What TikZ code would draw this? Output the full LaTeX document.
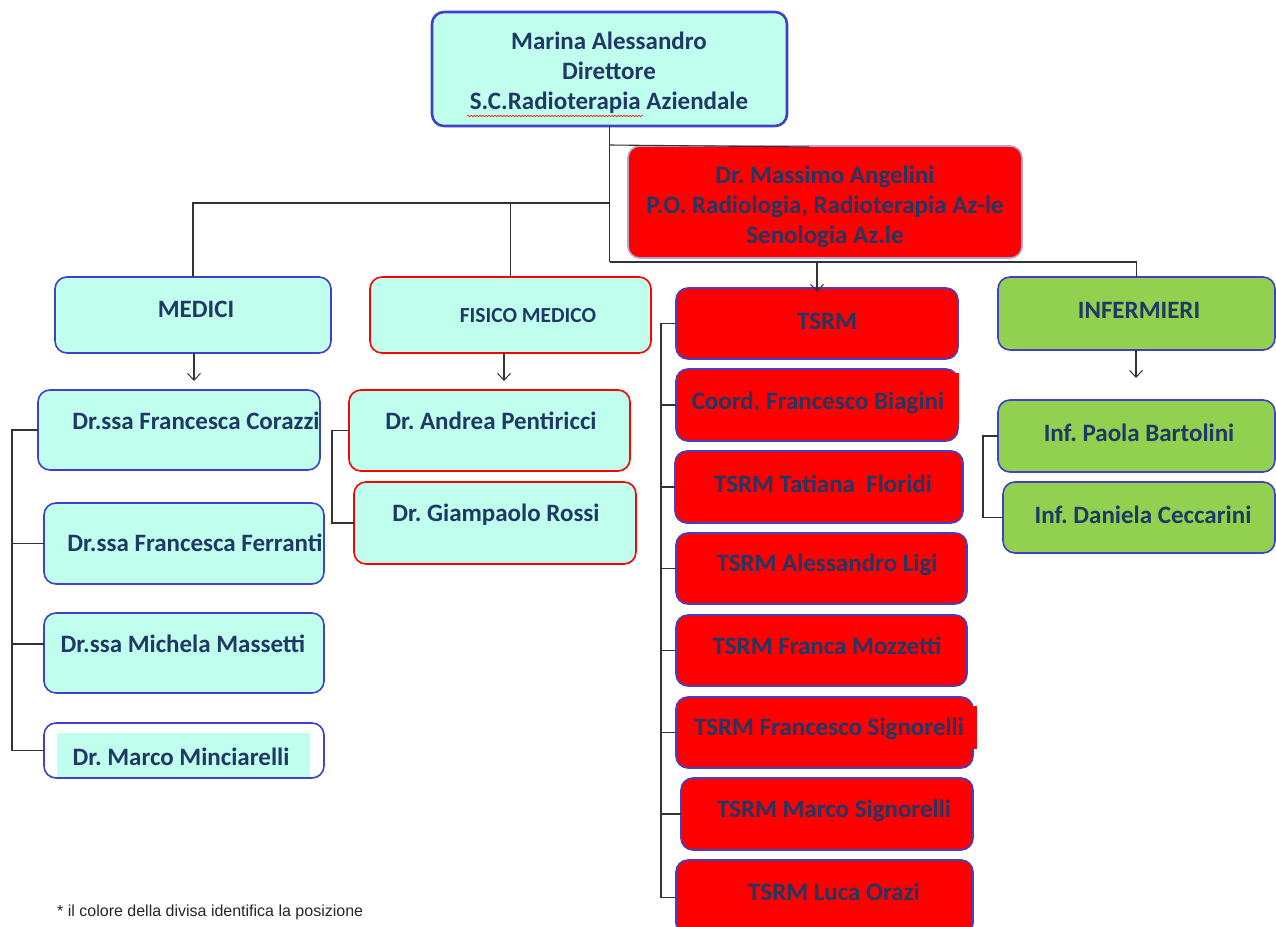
\documentclass[tikz,border=0pt]{standalone}
\usepackage{fontspec}
\setmainfont{Carlito}
\newfontfamily\notefont{Liberation Sans}
\usetikzlibrary{arrows.meta,decorations.pathmorphing}
\definecolor{cyanfill}{RGB}{192,255,238}
\definecolor{boxblue}{RGB}{64,64,200}
\definecolor{navy}{RGB}{31,56,100}
\definecolor{grn}{RGB}{146,208,80}
\definecolor{angborder}{RGB}{175,165,205}
\frenchspacing
\begin{document}
\begin{tikzpicture}[x=1pt,y=-1pt,
  box/.style={draw, rounded corners=12pt, line width=1.6pt, inner sep=0pt, outer sep=0pt},
  cy/.style={box, fill=cyanfill, draw=boxblue},
  cyr/.style={box, fill=cyanfill, draw=red},
  rd/.style={box, fill=red, draw=boxblue},
  gr/.style={box, fill=grn, draw=boxblue},
  lbl/.style={text=navy, font=\fontsize{25}{30}\selectfont\bfseries, align=center, inner sep=0pt},
  conn/.style={draw=black!80, line width=1.1pt},
  arr/.style={conn, -{Straight Barb[length=7pt,width=13pt,line width=1pt]}}
]
\useasboundingbox (0,0) rectangle (1276,926);
\fill[white] (0,0) rectangle (1276,926);

% ---------- boxes ----------
\node[cy, line width=2.6pt, minimum width=355, minimum height=114] (top) at (609.5,69) {};
\node[box, fill=red, draw=angborder, line width=1.6pt, minimum width=394, minimum height=112] (ang) at (825,202) {};

\node[cy, minimum width=276, minimum height=76] (medici) at (193,315) {};
\node[cyr, minimum width=281, minimum height=76] (fisico) at (510.5,315) {};
\node[rd, minimum width=282, minimum height=71] (tsrm) at (817,323.5) {};
\node[gr, minimum width=277, minimum height=73] (inf) at (1136.5,313.5) {};

\node[cy, minimum width=282, minimum height=80] (corazzi) at (179,430) {};
\node[cy, minimum width=280, minimum height=81] (ferranti) at (184,543.5) {};
\node[cy, minimum width=280, minimum height=80] (massetti) at (184,653) {};
\node[box, fill=white, draw=boxblue, minimum width=280, minimum height=55] (minc) at (184,750.5) {};
\fill[cyanfill] (57,733) rectangle (310,777);

\node[cyr, minimum width=281, minimum height=81] (pent) at (489.5,430.5) {};
\node[cyr, minimum width=282, minimum height=82] (rossi) at (495,523) {};

\node[rd, minimum width=282, minimum height=72] (biagini) at (817,405) {};
\fill[red] (679,373) rectangle (958.5,424);
\node[rd, minimum width=288, minimum height=72] (floridi) at (819,487) {};
\node[rd, minimum width=291, minimum height=71] (ligi) at (821.5,568.5) {};
\node[rd, minimum width=291, minimum height=71] (mozz) at (821.5,650.5) {};
\node[rd, minimum width=297, minimum height=71] (fsign) at (824.5,732.5) {};
\fill[red] (960,706) rectangle (977,749);
\node[rd, minimum width=292, minimum height=72] (msign) at (827,814) {};
\node[rd, minimum width=297, minimum height=75] (orazi) at (824.5,897.5) {};

\node[gr, minimum width=277, minimum height=72] (bart) at (1136.5,436) {};
\node[gr, minimum width=272, minimum height=71] (cecc) at (1139,517.5) {};

% ---------- connectors ----------
\coordinate (jl) at (609.5,203);
\coordinate (jr) at (609.5,262);
\draw[conn, line width=1.5pt] (top.south) -- (jr);
\draw[conn] (top.south |- ang.north) ++(0,-1) -- ([xshift=-16pt,yshift=-1pt]ang.north);
\draw[conn] (jl) -| (medici.north);
\draw[conn] (jl -| fisico.north) -- (fisico.north);
\draw[conn] (jr) -| (inf.north);
\draw[arr] (jr -| tsrm.north) -- ([yshift=-4pt]tsrm.north);

\draw[arr] ([xshift=1pt]medici.south) -- ++(0,28);
\draw[arr] ([xshift=-6.5pt]fisico.south) -- ++(0,28);
\draw[arr] ([xshift=-0.5pt]inf.south) -- ++(0,28);

% MEDICI bracket
\coordinate (mb) at (12,0);
\draw[conn] (corazzi.west) -- (mb |- corazzi.west) -- (mb |- minc.west) -- (minc.west);
\draw[conn] (mb |- ferranti.west) -- (ferranti.west);
\draw[conn] (mb |- 0,644) -- (massetti.west |- 0,644);
% FISICO bracket
\coordinate (fb) at (332,0);
\draw[conn] (pent.west) -- (fb |- pent.west) -- (fb |- rossi.west) -- (rossi.west);
% TSRM bracket
\coordinate (tb) at (661,0);
\draw[conn] (tsrm.west) -- (tb |- tsrm.west) -- (tb |- orazi.west) -- (orazi.west);
\foreach \n in {biagini,floridi,ligi,mozz,fsign,msign}
  \draw[conn] (tb |- \n.west) -- (\n.west);
% INFERMIERI bracket
\coordinate (ib) at (983,0);
\draw[conn] (bart.west) -- (ib |- bart.west) -- (ib |- cecc.west) -- (cecc.west);

% ---------- texts ----------
\node[lbl] (ttop) at (609,73) {Marina Alessandro\\Direttore\\S.C.Radioterapia Aziendale};
\draw[red, line width=0.5pt, decorate, decoration={snake, amplitude=0.9pt, segment length=3pt}] (467,116) -- (643,116);
\node[lbl] (tang) at (825,207) {Dr. Massimo Angelini\\P.O. Radiologia, Radioterapia Az-le\\Senologia Az.le};
\node[lbl] (tmed) at (196,309) {MEDICI};
\node[lbl, font=\fontsize{21.5}{24}\selectfont\bfseries] (tfis) at (528,316) {FISICO MEDICO};
\node[lbl] (ttsrm) at (827,321) {TSRM};
\node[lbl] (tinf) at (1139,310) {INFERMIERI};

\node[lbl] (tcor) at (196,421) {Dr.ssa Francesca Corazzi};
\node[lbl] (tfer) at (195,543) {Dr.ssa Francesca Ferranti};
\node[lbl] (tmas) at (183,644) {Dr.ssa Michela Massetti};
\node[lbl] (tmin) at (181,757) {Dr. Marco Minciarelli};

\node[lbl] (tpen) at (491,421) {Dr. Andrea Pentiricci};
\node[lbl] (tros) at (496,515) {Dr. Giampaolo Rossi};

\node[lbl] (tbia) at (818,403) {Coord. Francesco Biagini};
\node[lbl] (tflo) at (823,484) {TSRM Tatiana~ Floridi};
\node[lbl] (tlig) at (827,565) {TSRM Alessandro Ligi};
\node[lbl] (tmoz) at (827,646) {TSRM Franca Mozzetti};
\node[lbl] (tfsi) at (829,729) {TSRM Francesco Signorelli};
\node[lbl] (tmsi) at (834,811) {TSRM Marco Signorelli};
\node[lbl] (tora) at (834,892) {TSRM Luca Orazi};

\node[lbl] (tbar) at (1139,433) {Inf. Paola Bartolini};
\node[lbl] (tcec) at (1143,515) {Inf. Daniela Ceccarini};

\node[anchor=west, inner sep=0pt, font=\notefont\fontsize{16}{18}\selectfont, text=black!85] (note) at (57,912) {* il colore della divisa identifica la posizione};
\end{tikzpicture}
\end{document}
